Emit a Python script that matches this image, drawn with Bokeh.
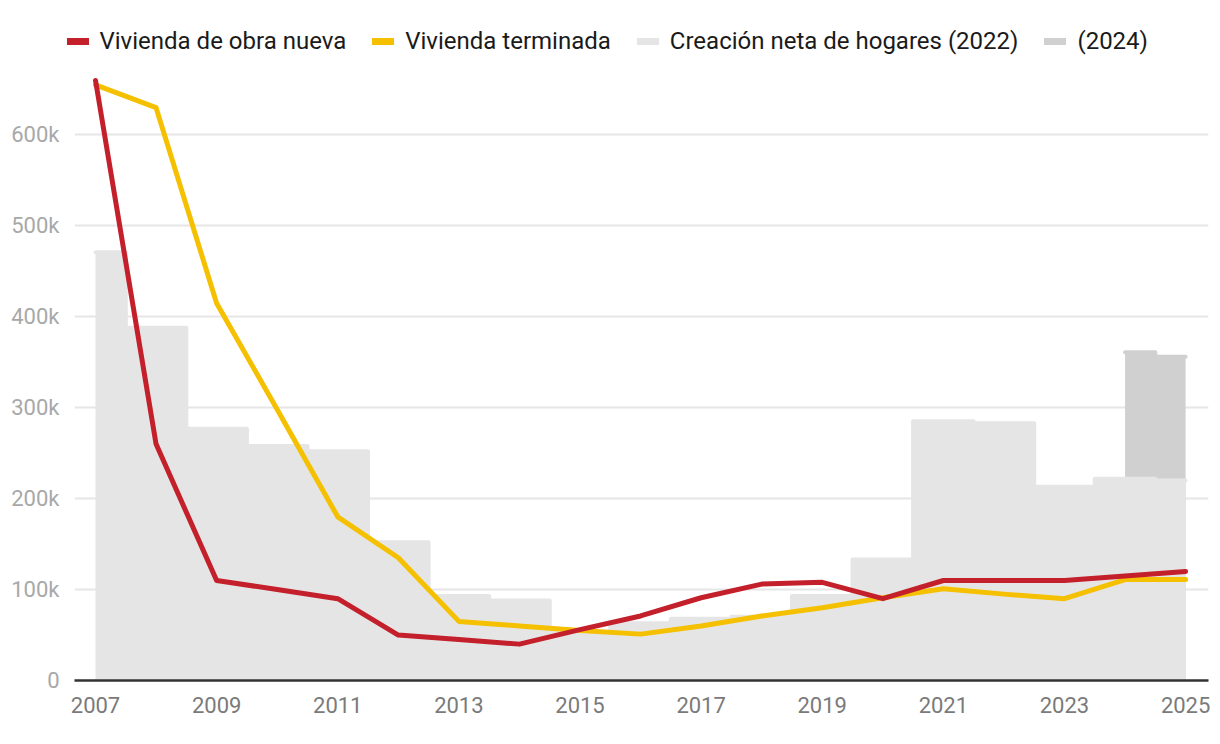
from bokeh.plotting import figure
from bokeh.layouts import column
from bokeh.models import Range1d, FixedTicker, NumeralTickFormatter, Legend, LegendItem
from bokeh.embed import file_html
from bokeh.resources import INLINE

# ---- data ----
years = list(range(2007, 2026))
obra_nueva = [660000, 260000, 110000, 100000, 90000, 50000, 45000, 40000, 56000, 71000,
              91000, 106000, 108000, 90000, 110000, 110000, 110000, 115000, 120000]
terminada = [655000, 630000, 415000, 298000, 180000, 135000, 65000, 60000, 55000, 51000,
             60000, 71000, 80000, 91000, 101000, 95000, 90000, 111000, 111000]
hogares_2022 = [471000, 388000, 277000, 258000, 252000, 152000, 93000, 88000, 53000, 63000,
                68000, 70000, 93000, 133000, 285000, 283000, 213000, 222000, 220000]
years_2024 = [2024, 2025]
hogares_2024 = [361000, 356000]

x_ticks = list(range(2007, 2026, 2))
y_ticks = [0, 100000, 200000, 300000, 400000, 500000, 600000]

labels = ["Vivienda de obra nueva", "Vivienda terminada",
          "Creación neta de hogares (2022)", "(2024)"]

RED = "#c3202b"
YELLOW = "#f5c000"
LIGHT = "#e5e5e5"
DARK = "#d0d0d0"

# ---- legend strip (its renderers carry the series but lie outside its ranges) ----
lg = figure(frame_width=1212, frame_height=64, min_border=0,
            x_axis_location=None, y_axis_location=None,
            x_range=Range1d(0, 1), y_range=Range1d(0, 1),
            output_backend="svg", toolbar_location=None)
lg.outline_line_color = None
lg.grid.grid_line_color = None
series = [(years, obra_nueva, RED), (years, terminada, YELLOW),
          (years, hogares_2022, LIGHT), (years_2024, hogares_2024, DARK)]
sw = [lg.line(x=xs, y=ys, line_color=c, line_width=7, line_cap="round")
      for xs, ys, c in series]
legend = Legend(items=[LegendItem(label=l, renderers=[r]) for l, r in zip(labels, sw)],
                orientation="horizontal", location=(66.5, 8),
                background_fill_alpha=0, border_line_color=None,
                padding=0, margin=0, spacing=26,
                glyph_width=22, glyph_height=30, label_height=30,
                label_standoff=11,
                label_text_font="Roboto", label_text_font_size="24px",
                label_text_color="#1a1a1a", label_text_baseline="middle")
lg.add_layout(legend, "center")

# ---- main chart ----
p = figure(frame_width=1134, frame_height=608,
           min_border_left=74, min_border_right=4,
           min_border_top=8, min_border_bottom=44,
           x_range=Range1d(2006.653, 2025.378), y_range=Range1d(0, 668700),
           output_backend="svg", toolbar_location=None)
p.outline_line_color = None
p.background_fill_color = "white"
p.border_fill_color = "white"

# areas
p.varea_step(x=years_2024, y1=[0] * len(years_2024), y2=hogares_2024,
             step_mode="center", fill_color=DARK)
p.step(x=years_2024, y=hogares_2024, mode="center", line_color=DARK,
       line_width=4, line_cap="round", line_join="round")
p.varea_step(x=years, y1=[0] * len(years), y2=hogares_2022,
             step_mode="center", fill_color=LIGHT)
p.step(x=years, y=hogares_2022, mode="center", line_color=LIGHT,
       line_width=4, line_cap="round", line_join="round")

# lines
p.line(x=years, y=terminada, line_color=YELLOW, line_width=5,
       line_cap="round", line_join="round")
p.line(x=years, y=obra_nueva, line_color=RED, line_width=5,
       line_cap="round", line_join="round")

# axes
p.xaxis.ticker = FixedTicker(ticks=x_ticks)
p.xaxis.major_tick_line_color = None
p.xaxis.minor_tick_line_color = None
p.xaxis.axis_line_color = "#333333"
p.xaxis.axis_line_width = 2.5
p.xaxis.major_label_text_font = "Roboto"
p.xaxis.major_label_text_font_size = "22px"
p.xaxis.major_label_text_color = "#7a7a7a"
p.xaxis.major_label_standoff = 10

p.yaxis.ticker = FixedTicker(ticks=y_ticks)
p.yaxis.formatter = NumeralTickFormatter(format="0a")
p.yaxis.major_tick_line_color = None
p.yaxis.minor_tick_line_color = None
p.yaxis.axis_line_color = None
p.yaxis.major_label_text_font = "Roboto"
p.yaxis.major_label_text_font_size = "22px"
p.yaxis.major_label_text_color = "#a8a8a8"
p.yaxis.major_label_standoff = 9

p.xgrid.grid_line_color = None
p.ygrid.ticker = FixedTicker(ticks=y_ticks)
p.ygrid.grid_line_color = "#e6e6e6"
p.ygrid.grid_line_width = 2

layout = column(lg, p, spacing=0)
open("out.html", "w").write(file_html(layout, INLINE))
